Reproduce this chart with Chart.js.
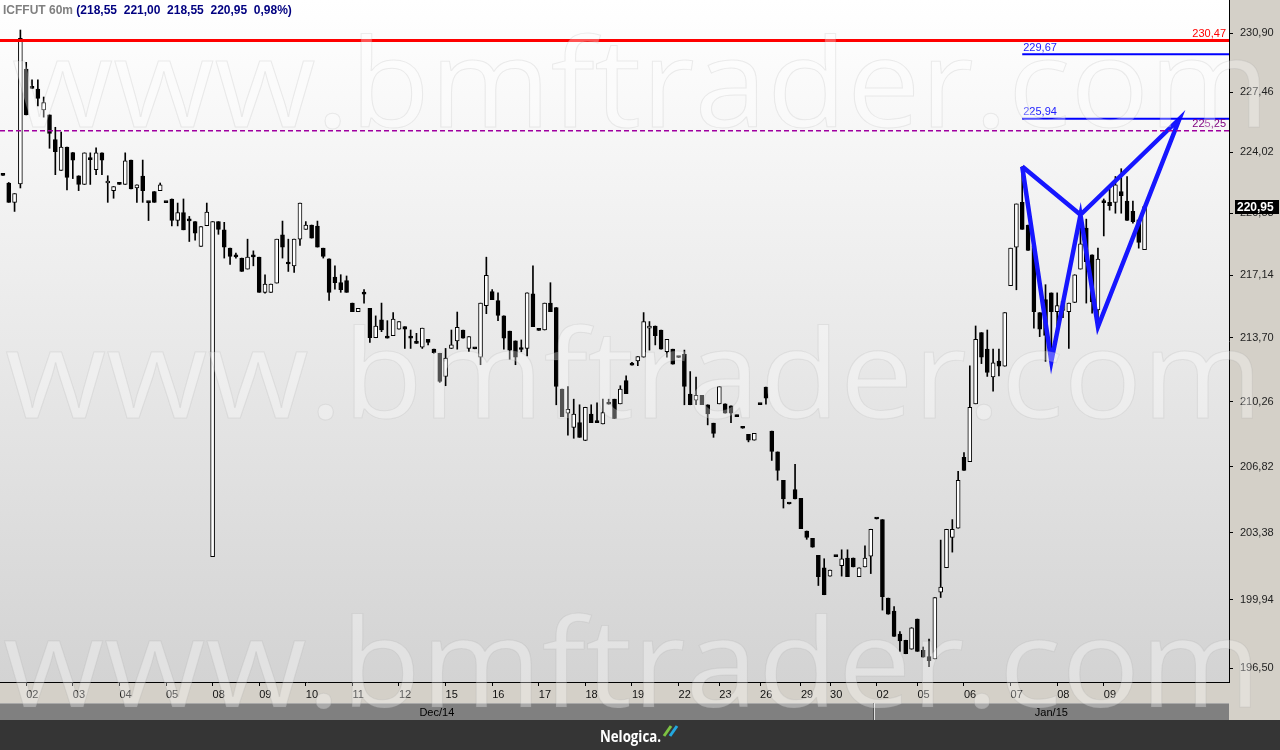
<!DOCTYPE html>
<html>
<head>
<meta charset="utf-8">
<script src="https://cdn.jsdelivr.net/npm/chart.js@4/dist/chart.umd.min.js"></script>
<style>
  html, body { margin: 0; padding: 0; background: #353535; }
  canvas { display: block; }
</style>
</head>
<body>
<canvas id="chart" width="1280" height="750"></canvas>
<script>
const SYMBOL = "ICFFUT 60m";
const CHANGE_PCT = 0.98;

// one entry per trading session (60m bars per session)
const SESSION_DAYS = ["01", "02", "03", "04", "05", "08", "09", "10", "11", "12", "15", "16", "17",
  "18", "19", "22", "23", "26", "29", "30", "02", "05", "06", "07", "08", "09"];
const SESSION_BARS = [4, 8, 8, 8, 8, 8, 8, 8, 8, 8, 8, 8, 8, 8, 8, 7, 7, 7, 5, 8, 7, 8, 8, 8, 8, 8];
const SESSION_MONTHS = ["Dec/14", "Dec/14", "Dec/14", "Dec/14", "Dec/14", "Dec/14", "Dec/14", "Dec/14",
  "Dec/14", "Dec/14", "Dec/14", "Dec/14", "Dec/14", "Dec/14", "Dec/14", "Dec/14", "Dec/14", "Dec/14",
  "Dec/14", "Dec/14", "Jan/15", "Jan/15", "Jan/15", "Jan/15", "Jan/15", "Jan/15"];
const EMPTY_SLOTS = 14;

const OPEN = [
  222.75, 222.28, 221.19, 222.23, 228.81, 227.77, 227.65, 226.45, 226.16, 224.74,
  222.99, 224.32, 224.01, 222.69, 222.20, 223.64, 223.03, 223.99, 222.28, 221.85,
  222.27, 222.20, 223.58, 222.00, 222.67, 221.21, 221.80, 221.85, 221.21, 221.38,
  220.17, 220.62, 220.19, 220.11, 218.72, 219.88, 202.14, 220.11, 219.65, 218.63,
  218.19, 218.08, 217.47, 218.19, 218.13, 216.19, 216.19, 216.70, 219.37, 217.79,
  217.65, 219.13, 219.68, 219.92, 219.86, 218.63, 218.04, 217.03, 216.72, 216.83,
  215.60, 215.13, 216.13, 215.31, 213.71, 214.68, 213.73, 213.82, 214.17, 214.31,
  213.73, 213.44, 213.20, 213.63, 213.09, 212.87, 211.62, 213.13, 213.54, 214.13,
  213.13, 213.15, 212.66, 215.46, 216.23, 215.74, 214.90, 214.07, 213.54, 213.11,
  213.13, 216.11, 214.15, 214.13, 215.60, 215.36, 210.94, 209.65, 208.90, 209.15,
  208.20, 209.61, 209.19, 209.08, 210.17, 210.40, 210.15, 211.39, 212.27, 212.46,
  212.66, 214.23, 214.35, 214.13, 212.95, 213.09, 212.68, 212.81, 210.67, 210.35,
  210.61, 210.10, 209.12, 210.15, 210.15, 210.04, 209.55, 208.89, 208.53, 208.22,
  210.15, 211.05, 208.70, 207.60, 206.10, 204.91, 205.62, 205.17, 203.47, 203.09,
  202.21, 201.58, 201.15, 202.19, 201.68, 202.08, 202.08, 201.12, 201.62, 202.17,
  204.13, 204.06, 200.03, 199.37, 198.21, 197.90, 197.45, 198.97, 197.39, 197.08,
  196.96, 200.33, 201.58, 203.14, 203.61, 207.32, 207.09, 210.15, 213.99, 213.09,
  211.59, 212.44, 212.17, 216.56, 218.69, 221.19, 219.92, 218.76, 215.08, 215.79,
  216.16, 215.13, 215.20, 215.13, 215.63, 217.47, 219.75, 218.26, 215.22, 221.21,
  221.19, 221.19, 221.80, 221.26, 220.68, 220.21, 218.55
];
const HIGH = [
  222.75, 222.31, 221.68, 231.09, 229.20, 228.19, 228.19, 227.19, 226.16, 225.45,
  225.18, 224.32, 224.01, 222.69, 223.99, 223.99, 224.28, 223.99, 222.69, 222.08,
  222.27, 223.99, 223.58, 222.17, 223.58, 221.21, 221.80, 222.28, 221.21, 221.38,
  221.15, 221.38, 220.40, 220.11, 219.83, 221.15, 220.11, 220.11, 220.07, 218.63,
  218.36, 218.08, 219.13, 218.48, 218.13, 217.16, 216.65, 219.13, 220.14, 219.13,
  219.13, 221.15, 220.11, 219.92, 220.14, 218.63, 218.04, 217.65, 217.16, 217.09,
  215.60, 215.31, 216.34, 215.31, 214.90, 215.60, 214.64, 215.08, 214.59, 214.31,
  214.13, 213.95, 214.23, 213.63, 213.09, 212.87, 213.13, 214.13, 215.11, 214.13,
  213.77, 213.15, 215.60, 218.13, 216.34, 216.16, 214.90, 214.07, 213.54, 213.59,
  216.16, 217.65, 214.15, 215.60, 216.72, 215.36, 210.94, 211.08, 210.40, 210.10,
  209.97, 210.10, 210.20, 210.40, 210.40, 210.40, 211.12, 211.65, 212.38, 212.69,
  215.08, 214.59, 214.35, 214.13, 213.63, 213.09, 212.68, 213.04, 211.88, 211.59,
  210.61, 210.10, 209.12, 211.08, 210.15, 210.04, 209.55, 208.89, 208.53, 208.58,
  210.15, 211.05, 208.70, 207.60, 206.10, 204.91, 206.94, 205.17, 203.47, 203.09,
  202.21, 202.04, 201.46, 202.19, 202.50, 202.50, 202.08, 201.58, 202.71, 203.56,
  204.13, 204.06, 200.03, 199.60, 198.33, 197.90, 198.53, 198.97, 197.56, 197.96,
  200.06, 203.00, 203.56, 204.06, 206.58, 207.57, 212.19, 214.35, 213.99, 214.13,
  213.09, 213.09, 215.08, 218.63, 221.10, 223.21, 219.92, 218.76, 215.08, 216.61,
  216.16, 216.16, 215.90, 215.60, 217.16, 220.25, 220.25, 218.26, 218.63, 221.38,
  221.94, 222.65, 223.09, 222.65, 221.26, 220.21, 221.00
];
const LOW = [
  222.71, 221.19, 220.68, 222.00, 226.16, 227.69, 226.68, 226.03, 224.25, 222.75,
  222.99, 221.89, 222.53, 221.85, 222.20, 222.20, 222.75, 222.75, 221.19, 221.42,
  222.20, 222.20, 221.94, 221.19, 221.19, 220.17, 221.19, 221.85, 221.17, 219.87,
  219.87, 219.65, 219.00, 219.08, 218.72, 219.88, 202.14, 219.40, 218.08, 217.73,
  218.08, 217.34, 217.47, 217.65, 216.19, 216.15, 216.19, 216.70, 218.08, 217.34,
  217.29, 218.78, 219.68, 219.19, 218.69, 218.08, 215.74, 216.37, 216.19, 216.19,
  215.13, 215.13, 215.60, 213.45, 213.71, 214.04, 213.69, 213.82, 214.17, 213.13,
  213.13, 213.40, 213.13, 213.32, 212.87, 211.30, 211.12, 213.13, 213.09, 213.68,
  212.95, 213.11, 212.25, 215.02, 215.79, 214.64, 213.09, 212.55, 212.25, 212.95,
  212.73, 214.31, 214.11, 214.13, 215.13, 210.10, 209.47, 208.49, 208.32, 208.37,
  208.20, 209.15, 209.15, 209.08, 210.13, 209.38, 210.15, 210.69, 212.23, 212.20,
  212.66, 213.04, 213.32, 213.09, 212.66, 212.28, 212.64, 210.10, 210.10, 210.10,
  210.10, 209.03, 208.37, 210.15, 209.65, 209.15, 209.47, 208.85, 208.13, 208.22,
  210.11, 210.13, 207.15, 206.11, 204.66, 204.87, 205.14, 203.59, 203.04, 202.63,
  200.67, 200.20, 201.15, 202.15, 201.15, 201.12, 201.62, 201.12, 201.62, 201.28,
  204.09, 199.42, 199.21, 198.09, 197.34, 197.22, 197.45, 197.34, 197.05, 196.58,
  196.96, 200.06, 201.58, 202.38, 203.61, 206.63, 207.09, 210.15, 212.31, 211.62,
  210.83, 211.65, 212.17, 216.56, 216.33, 219.68, 218.50, 214.23, 213.77, 212.43,
  212.34, 214.30, 214.80, 213.13, 215.63, 217.47, 215.60, 215.05, 214.31, 219.31,
  220.75, 220.58, 220.58, 220.17, 220.02, 218.63, 218.55
];
const CLOSE = [
  222.71, 221.19, 221.68, 230.61, 226.16, 227.69, 227.11, 226.87, 225.10, 224.05,
  224.32, 222.59, 223.58, 222.20, 223.99, 223.60, 223.99, 223.57, 222.39, 222.08,
  222.20, 223.54, 221.94, 222.17, 221.85, 221.17, 221.19, 222.18, 221.17, 220.17,
  220.62, 219.65, 220.15, 219.47, 219.83, 220.64, 220.11, 219.68, 218.69, 218.17,
  218.15, 217.34, 218.13, 218.15, 216.19, 216.65, 216.65, 219.13, 218.69, 217.75,
  219.13, 221.15, 219.92, 219.19, 218.69, 218.17, 216.19, 216.72, 216.34, 216.19,
  215.13, 215.31, 216.09, 213.71, 214.35, 214.13, 213.69, 214.72, 214.59, 214.17,
  213.69, 213.40, 214.23, 213.45, 212.90, 211.35, 212.61, 213.32, 214.28, 213.68,
  213.77, 213.11, 215.60, 217.12, 215.79, 214.92, 213.68, 213.04, 212.66, 213.07,
  216.16, 214.31, 214.11, 215.60, 215.13, 211.08, 209.47, 209.86, 209.61, 208.37,
  209.97, 209.15, 209.15, 209.69, 210.13, 209.38, 210.94, 210.69, 212.23, 212.69,
  214.59, 214.35, 213.82, 213.09, 213.63, 212.28, 212.64, 211.08, 210.10, 210.61,
  210.10, 209.61, 208.58, 211.08, 209.65, 209.65, 209.47, 208.85, 208.22, 208.58,
  210.11, 210.45, 207.62, 206.63, 205.14, 204.87, 205.14, 203.59, 203.14, 202.63,
  201.12, 200.20, 201.46, 202.15, 202.04, 201.12, 201.62, 201.58, 202.08, 203.56,
  204.09, 200.10, 199.21, 198.09, 197.87, 197.22, 198.53, 197.34, 197.05, 196.87,
  200.06, 200.59, 203.56, 203.56, 206.11, 206.63, 209.97, 213.63, 212.66, 211.83,
  212.35, 212.17, 215.08, 218.63, 221.10, 219.68, 218.50, 215.13, 214.17, 213.84,
  215.13, 215.46, 215.70, 215.60, 217.16, 218.87, 217.88, 215.67, 218.03, 221.17,
  221.00, 222.18, 221.56, 220.17, 220.11, 218.95, 220.95
];

const Y_TICKS = [196.50, 199.94, 203.38, 206.82, 210.26, 213.70, 217.14, 220.58, 224.02, 227.46, 230.90];
const Y_MIN = 195.81;
const Y_MAX = 232.86;

// horizontal levels drawn on the chart
const LEVELS = [230.47, 229.67, 225.94, 225.25];
// harmonic pattern X-A-B-C-D (bar index, price), drawn as one path
const PATTERN_X = [175, 180, 185, 188, 202, 185, 175];
const PATTERN_Y = [223.21, 212.43, 220.49, 214.31, 225.94, 220.49, 223.21];

const FONT = "'Liberation Sans', Arial, sans-serif";
const fmt = (v) => v.toFixed(2).replace(".", ",");

const labels = [];
const sessionStarts = [];
SESSION_DAYS.forEach((day, s) => {
  sessionStarts.push(labels.length);
  for (let k = 0; k < SESSION_BARS[s]; k++) labels.push(day);
});
for (let k = 0; k < EMPTY_SLOTS; k++) labels.push("");
// first session is cut off at the left edge, so no tick for it
const tickIndexes = new Set(sessionStarts.slice(1));

const bodyColors = OPEN.map((o, i) => (CLOSE[i] > o ? "#ffffff" : "#000000"));

const levelStyles = [
  { color: "#ff0000", text: "#ff0000", width: 3, dash: [], fromPattern: false, align: "right" },
  { color: "#0000ff", text: "#2020ff", width: 2, dash: [], fromPattern: true, align: "left" },
  { color: "#0000ff", text: "#2020ff", width: 2, dash: [], fromPattern: true, align: "left" },
  { color: "#a000a0", text: "#800080", width: 1.3, dash: [5, 3], fromPattern: false, align: "right" }
];

const backdrop = {
  id: "backdrop",
  beforeDraw(chart) {
    const { ctx, chartArea: a, scales: { x } } = chart;
    ctx.save();
    ctx.fillStyle = "#d4d0c8";
    ctx.fillRect(0, 0, chart.width, 720);

    const grad = ctx.createLinearGradient(0, a.top, 0, a.bottom);
    grad.addColorStop(0, "#ffffff");
    grad.addColorStop(0.05, "#fdfdfd");
    grad.addColorStop(1, "#d3d3d3");
    ctx.fillStyle = grad;
    ctx.fillRect(a.left, a.top, a.right - a.left, a.bottom - a.top);

    // month bar under the date labels
    const half = (x.getPixelForValue(1) - x.getPixelForValue(0)) / 2;
    const top = 703;
    const h = 17;
    ctx.fillStyle = "#808080";
    ctx.fillRect(a.left, top, a.right - a.left, h);
    ctx.fillStyle = "#a8a8a8";
    ctx.fillRect(a.left, top, a.right - a.left, 1);

    const segs = [];
    SESSION_MONTHS.forEach((m, s) => {
      if (!segs.length || segs[segs.length - 1].name !== m) segs.push({ name: m, start: sessionStarts[s] });
    });
    ctx.font = "11px " + FONT;
    ctx.textAlign = "center";
    ctx.textBaseline = "middle";
    segs.forEach((seg, k) => {
      const x0 = k === 0 ? a.left : x.getPixelForValue(seg.start) - half;
      const x1 = k + 1 < segs.length ? x.getPixelForValue(segs[k + 1].start) - half : a.right;
      if (k > 0) {
        ctx.fillStyle = "#505050";
        ctx.fillRect(Math.round(x0) - 1, top, 1, h);
        ctx.fillStyle = "#e0e0e0";
        ctx.fillRect(Math.round(x0), top, 1, h);
      }
      ctx.fillStyle = "#000";
      ctx.fillText(seg.name, (x0 + x1) / 2, top + h / 2 + 1);
    });

    ctx.fillStyle = "#353535";
    ctx.fillRect(0, 720, chart.width, 30);
    ctx.restore();
  }
};

const overlay = {
  id: "overlay",
  afterDatasetsDraw(chart) {
    const { ctx, chartArea: a, scales: { x, y } } = chart;
    ctx.save();
    ctx.font = "11px " + FONT;
    ctx.textBaseline = "bottom";
    LEVELS.forEach((level, k) => {
      const st = levelStyles[k];
      const py = y.getPixelForValue(level);
      const x0 = st.fromPattern ? x.getPixelForValue(PATTERN_X[0]) : a.left;
      ctx.strokeStyle = st.color;
      ctx.lineWidth = st.width;
      ctx.setLineDash(st.dash);
      ctx.beginPath();
      ctx.moveTo(x0, py);
      ctx.lineTo(a.right, py);
      ctx.stroke();
      ctx.fillStyle = st.text;
      ctx.textAlign = st.align;
      ctx.fillText(fmt(level), st.align === "left" ? x0 + 1 : a.right - 3, py - 1);
    });
    ctx.restore();
  },
  afterDraw(chart) {
    const { ctx, chartArea: a, scales: { y } } = chart;
    const last = CLOSE.length - 1;
    ctx.save();

    // watermark over plot and axes
    const mark = "www.bmftrader.com";
    ctx.save();
    ctx.beginPath();
    ctx.rect(0, 0, chart.width, 720);
    ctx.clip();
    ctx.font = "122px 'Open Sans', " + FONT;
    ctx.textBaseline = "alphabetic";
    ctx.textAlign = "left";
    const mw = ctx.measureText(mark).width;
    [[12, 127], [5, 418], [3, 707]].forEach(([mx, my]) => {
      ctx.save();
      ctx.translate(mx, my);
      ctx.scale(1258 / mw, 1);
      ctx.fillStyle = "rgba(255,255,255,0.32)";
      ctx.fillText(mark, 0, 0);
      ctx.lineWidth = 1;
      ctx.strokeStyle = "rgba(150,150,150,0.16)";
      ctx.strokeText(mark, 0, 0);
      ctx.restore();
    });
    ctx.restore();

    // last price tag on the price axis
    const py = y.getPixelForValue(CLOSE[last]);
    ctx.fillStyle = "#000";
    ctx.fillRect(a.right + 6, Math.round(py) - 7, 44, 14);
    ctx.fillStyle = "#fff";
    ctx.font = "bold 12px " + FONT;
    ctx.textAlign = "left";
    ctx.textBaseline = "middle";
    ctx.fillText(fmt(CLOSE[last]), a.right + 8, Math.round(py) + 0.5);

    // title
    ctx.fillStyle = "#808080";
    ctx.fillText(SYMBOL, 3, 11);
    const tx = 3 + ctx.measureText(SYMBOL + " ").width;
    ctx.fillStyle = "#000080";
    ctx.fillText(`(${fmt(OPEN[last])}  ${fmt(HIGH[last])}  ${fmt(LOW[last])}  ${fmt(CLOSE[last])}  ${fmt(CHANGE_PCT)}%)`, tx, 11);

    // footer brand
    ctx.fillStyle = "#ffffff";
    ctx.font = "bold 16px 'Open Sans', " + FONT;
    ctx.textBaseline = "alphabetic";
    const brand = "Nelogica.";
    const bw = ctx.measureText(brand).width;
    ctx.save();
    ctx.translate(600, 742);
    ctx.scale(61 / bw, 1);
    ctx.fillText(brand, 0, 0);
    ctx.restore();
    ctx.lineWidth = 3;
    ctx.strokeStyle = "#7dc242";
    ctx.beginPath(); ctx.moveTo(664, 736); ctx.lineTo(671, 726); ctx.stroke();
    ctx.strokeStyle = "#23a8e0";
    ctx.beginPath(); ctx.moveTo(670, 736); ctx.lineTo(677, 726); ctx.stroke();
    ctx.restore();
  }
};

Chart.defaults.font.family = FONT;

new Chart(document.getElementById("chart"), {
  type: "bar",
  data: {
    labels,
    datasets: [
      {
        // parsing off: x is the bar slot index on the category axis
        type: "line",
        parsing: false,
        data: PATTERN_X.map((xi, k) => ({ x: xi, y: PATTERN_Y[k] })),
        borderColor: "#1616ff",
        borderWidth: 4.5,
        pointRadius: 0,
        tension: 0,
        borderJoinStyle: "miter",
        order: 0
      },
      {
        data: OPEN.map((o, i) => [o, CLOSE[i]]),
        backgroundColor: bodyColors,
        borderColor: "#000",
        borderWidth: 1,
        borderSkipped: false,
        barThickness: 4,
        minBarLength: 2,
        grouped: false,
        order: 1
      },
      {
        data: LOW.map((l, i) => [l, HIGH[i]]),
        backgroundColor: "#000",
        barThickness: 1,
        grouped: false,
        order: 2
      }
    ]
  },
  options: {
    responsive: false,
    devicePixelRatio: 1,
    animation: false,
    events: [],
    layout: { padding: { left: 0, right: 0, top: 0, bottom: 30 } },
    plugins: { legend: { display: false }, tooltip: { enabled: false } },
    scales: {
      x: {
        type: "category",
        offset: true,
        grid: { offset: false, drawOnChartArea: false, drawTicks: true, tickLength: 4, tickColor: "#000" },
        border: { display: true, color: "#000" },
        ticks: {
          autoSkip: false, maxRotation: 0, minRotation: 0, align: "start", padding: 2,
          color: "#111", font: { size: 11 },
          callback: (v) => labels[v]
        },
        afterBuildTicks: (s) => { s.ticks = s.ticks.filter((t) => tickIndexes.has(t.value)); },
        afterFit: (s) => { s.height = 38; s.paddingLeft = 0; s.paddingRight = 0; }
      },
      y: {
        type: "logarithmic",
        position: "right",
        min: Y_MIN,
        max: Y_MAX,
        bounds: "data",
        grid: { drawOnChartArea: false, drawTicks: true, tickLength: 4, tickColor: "#000" },
        border: { display: true, color: "#000" },
        ticks: { autoSkip: false, padding: 7, color: "#222", font: { size: 11 }, callback: (v) => fmt(v) },
        afterBuildTicks: (s) => { s.ticks = Y_TICKS.map((v) => ({ value: v })); },
        afterFit: (s) => { s.width = 51; s.paddingTop = 0; s.paddingBottom = 0; }
      }
    }
  },
  plugins: [backdrop, overlay]
});
</script>
</body>
</html>
